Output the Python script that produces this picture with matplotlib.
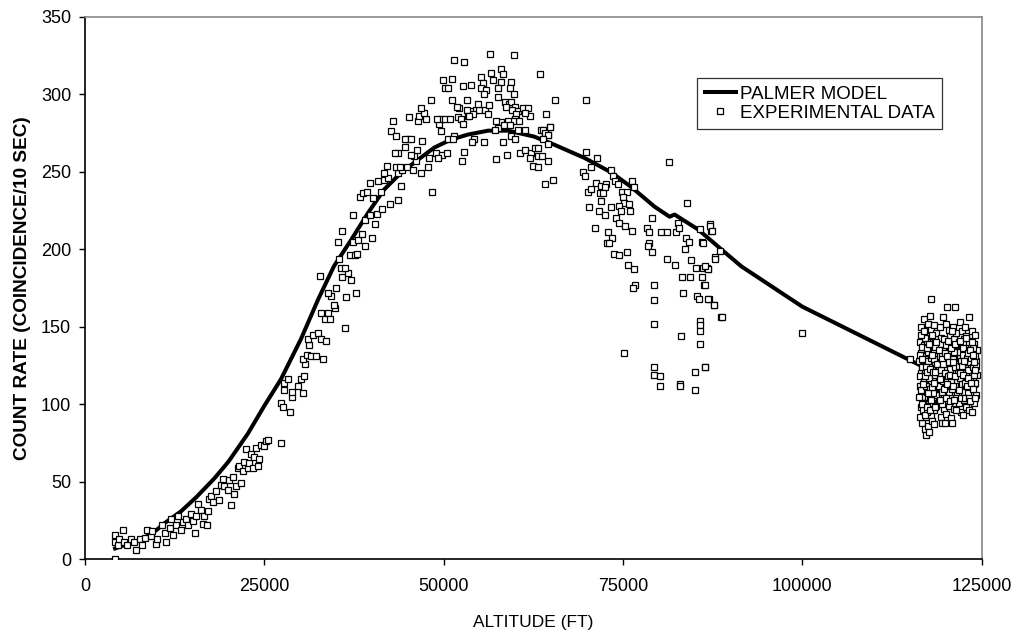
import matplotlib
matplotlib.use("Agg")
import matplotlib.pyplot as plt

plt.rcParams['font.family'] = ['Liberation Sans', 'DejaVu Sans']

# Palmer model curve (altitude ft, count rate)
model_alt = [4200, 6000, 8000, 10000, 11000, 13400, 15500, 18000, 20000, 22700,
             25000, 27300, 30100, 32500, 34700, 37100, 39500, 41700, 44100, 46500,
             48700, 51000, 53400, 56200, 59000, 62600, 65400, 69600, 73400, 76200,
             79400, 81500, 82200, 85500, 88700, 91500, 100000, 116200, 117000]
model_rate = [7, 10, 13, 19, 23, 31, 40, 52, 63, 81,
              99, 116, 142, 167.6, 189, 206, 223.7, 238.5, 249.5, 258,
              265.6, 270.7, 274, 276.5, 276.5, 272.7, 267.5, 259, 249.5, 240,
              227.5, 221, 222.4, 212.7, 200, 189, 163, 125.7, 124]

# experimental data, ascent / descent part
exp_alt = [
    4200, 4200, 5300, 4200, 4600, 4800, 5500, 5900, 6400, 6900, 7100, 7600, 8000, 8300, 8700,
    9200, 9400, 9900, 10100, 10800, 11100, 11300, 11800, 12000, 12200, 12700, 12900, 13400, 13600,
    14100, 14300, 14800, 15000, 15300, 15500, 15700, 16200, 16400, 16600, 17000, 17100, 17300,
    17600, 17800, 18300, 18700, 19000, 19200, 19400, 19900, 20100, 20400, 20600, 20800, 21100,
    21300, 21500, 21800, 22000, 22200, 22500, 22700, 22900, 23200, 23400, 23600, 23900, 24100,
    24300, 24600, 25000, 25300, 25500, 27300, 27300, 27600, 27800, 28600, 28800, 27800, 28300,
    29700, 30100, 28800,
    30400, 30500, 30700, 30400, 31000, 31500, 32200, 33200, 31300, 31100, 31800, 32500, 32900,
    33600, 36200, 32700, 32900, 33900, 33400, 34100, 34800, 34700, 34300, 33900, 35000, 36400,
    37800, 35900, 37100, 36600, 35700, 36200, 35400, 37000, 37600, 37900, 35300, 35900, 37300,
    38100, 38600, 39100, 40000, 40500, 37400, 39000, 39800, 40700, 41400, 42500, 43700, 38300,
    38700, 39300, 40200, 41200, 40800, 39700, 41700, 42300, 41700, 42100, 44100, 43600, 44200,
    43400, 43900, 44900, 45700, 46200, 45900, 46900, 47800, 48400, 45500, 46300, 47000, 44600,
    45000, 43600, 43200, 42700, 43400, 44600, 45500, 42900, 45200, 46400, 47600, 46600, 47300,
    48200, 46900, 48000, 49000, 49800, 50500, 49200, 49300, 49700, 50200, 50900, 49100, 49700,
    50600, 51500, 51300, 52000, 52400, 52700, 53400, 53900, 54500, 55000, 55700, 56200, 52100,
    53200, 54100, 53600, 51100, 51800, 53200, 54800, 56300, 57600, 58500, 59100, 59400, 59900,
    58700, 59500, 60400, 61100, 61800, 62100, 61300, 60100, 59900, 60500, 59700, 59000, 58000,
    57300, 57600, 58400, 59200, 60400, 61400, 57200, 59400, 59900, 58300, 55600, 54300, 53900,
    52800, 52500, 57300, 58800, 60600, 61300, 62200, 62700, 63200, 62100, 63100, 63700, 64500,
    62500, 63200, 64100, 65200, 63600, 64100, 64500, 64800, 64300, 65500, 63500, 56400, 59800,
    51500, 52900, 49900, 51200, 50200, 50600, 52700, 53800, 55200, 55500, 55200, 55900, 55600,
    56600, 56900, 58000, 58300, 58000, 59400, 59200, 59800, 57600,
    69900, 64900, 63800, 64200, 64600, 63800, 64500, 69800, 71400, 70600, 69400, 69700, 73400,
    73600, 73900, 71300, 72000, 72700, 72500, 70100, 70500, 71800, 72200, 74300, 76200, 76500,
    74800, 75500, 75000, 75200, 75900, 72000, 70300, 71600, 72500, 73300, 74500, 74700, 76000,
    74100, 74500, 75300, 76300, 71100, 72900, 73500, 72800, 73100, 73800, 74400, 75600, 75700,
    76500, 76700, 76400, 75200, 79100, 78400, 78600, 80300, 81200, 82400, 82700, 82800, 81400,
    84000, 78700, 78500, 79000, 81100, 82200, 83800, 84200, 83600, 84500, 85700, 86000, 87200,
    87300, 88600, 87900, 85200, 86200, 86700, 86900, 83200, 84400, 86000, 86300, 79300, 79400,
    83400, 85300, 85600, 87000, 87700, 88700, 79400, 85700, 85800, 85800, 83100, 85700, 79300,
    79400, 80100, 80200, 83000, 83000, 85000, 86500, 85100,
    87200, 87400, 86200, 87900, 86800, 86400, 86400, 86900, 87700, 88800, 86500, 100000, 115000,
]
exp_rate = [
    0, 16, 19, 11, 9, 13, 11, 9, 13, 11, 6, 13, 9, 14, 19,
    15, 18, 10, 13, 22, 17, 11, 20, 26, 16, 22, 28, 19, 24,
    26, 22, 29, 25, 17, 28, 36, 32, 23, 28, 22, 31, 39,
    41, 37, 44, 38, 48, 52, 47, 45, 51, 35, 53, 42, 47,
    59, 60, 49, 57, 63, 71, 59, 62, 68, 59, 66, 72, 60,
    65, 74, 73, 76, 77, 75, 101, 98, 109, 95, 105, 114, 116,
    112, 116, 108,
    107, 118, 126, 129, 132, 131, 131, 129, 138, 142, 145, 146, 142,
    141, 149, 183, 159, 159, 155, 155, 162, 164, 170, 172, 175, 169,
    172, 182, 180, 185, 188, 188, 194, 196, 196, 197, 205, 212, 205,
    206, 210, 202, 207, 216, 222, 219, 222, 223, 226, 229, 232, 234,
    236, 237, 233, 237, 244, 243, 245, 246, 249, 254, 241, 249, 251,
    253, 253, 253, 251, 257, 260, 249, 253, 237, 261, 264, 270, 266,
    271, 262, 262, 276, 273, 271, 271, 283, 285, 283, 284, 286, 288,
    296, 291, 259, 262, 261, 262, 259, 281, 284, 284, 284, 284, 276,
    271, 273, 271, 285, 284, 281, 286, 289, 290, 290, 290, 287, 291,
    290, 287, 286, 296, 292, 296, 294, 293, 298, 295, 294, 295, 292,
    292, 290, 289, 291, 291, 286, 288, 287, 284, 283, 283, 283, 282,
    283, 278, 280, 280, 277, 277, 277, 273, 271, 269, 269, 271, 269,
    263, 257, 258, 261, 262, 264, 262, 265, 265, 259, 260, 260, 257,
    254, 253, 242, 245, 277, 275, 274, 279, 287, 296, 313, 326, 325,
    322, 321, 309, 310, 304, 304, 305, 306, 311, 307, 304, 303, 300,
    314, 309, 316, 313, 308, 308, 304, 300, 304,
    296, 279, 277, 275, 274, 271, 268, 263, 259, 253, 250, 247, 251,
    247, 244, 243, 241, 242, 240, 237, 239, 236, 236, 242, 244, 240,
    237, 237, 234, 230, 229, 231, 227, 225, 222, 227, 228, 225, 225,
    220, 217, 215, 212, 214, 211, 207, 204, 204, 197, 196, 198, 190,
    187, 177, 175, 133, 220, 214, 211, 211, 211, 211, 217, 214, 256,
    230, 204, 202, 198, 194, 190, 207, 205, 200, 193, 213, 205, 216,
    212, 199, 195, 188, 188, 188, 187, 182, 182, 182, 177, 177, 167,
    172, 170, 168, 168, 164, 156, 152, 154, 151, 147, 144, 139, 124,
    119, 118, 112, 113, 112, 121, 124, 109,
    215, 212, 204, 194, 187, 189, 177, 168, 164, 156, 124, 146, 129,
]

# float at ceiling, dense cluster
cluster_alt = [
    116300, 116400, 116400, 116500, 116500, 116600, 116600, 116700, 116700, 116800, 116800, 116900,
    116900, 117000, 117000, 117000, 117100, 117100, 117200, 117200, 117200, 117300, 117300, 117300,
    117400, 117400, 117400, 117500, 117500, 117500, 117600, 117600, 117600, 117700, 117700, 117700,
    117800, 117800, 117800, 117900, 117900, 117900, 118000, 118000, 118000, 118100, 118100, 118100,
    118200, 118200, 118200, 118300, 118300, 118300, 118400, 118400, 118400, 118500, 118500, 118500,
    118600, 118600, 118700, 118700, 118700,
    119000, 119100, 119100, 119200, 119200, 119300, 119300, 119400, 119400, 119500, 119500, 119600,
    119600, 119700, 119700, 119800, 119800, 119900, 119900, 120000, 120000, 120000, 120100, 120100,
    120200, 120200, 120300, 120300, 120400, 120400, 120500, 120500, 120600, 120600, 120700, 120700,
    120800, 120800, 120900, 120900, 121000, 121000, 121100, 121100, 121200, 121200, 121300, 121300,
    121400, 121400, 121500, 121500,
    121800, 121800, 121900, 122000, 122000, 122100, 122100, 122200, 122200, 122300, 122300, 122400,
    122400, 122500, 122500, 122600, 122600, 122700, 122700, 122800, 122800, 122900, 122900, 123000,
    123000, 123100, 123100, 123200, 123200, 123300, 123300, 123400, 123400, 123500, 123500, 123600,
    123600, 123700, 123700, 123800, 123800, 123900, 123900, 124000, 124000, 124100, 124200, 124200,
    124300, 124300,
    116350, 116450, 116550, 116650, 116750, 116850, 116950, 117050, 117150, 117250, 117350, 117450,
    117550, 117650, 117750, 117850, 117950, 118050, 118150, 118250, 118350, 118450, 118550, 118650,
    118750,
    119050, 119150, 119250, 119350, 119450, 119550, 119650, 119750, 119850, 119950, 120050, 120150,
    120250, 120350, 120450, 120550, 120650, 120750, 120850, 120950, 121050, 121150, 121250, 121350,
    121450,
    121850, 121950, 122050, 122150, 122250, 122350, 122450, 122550, 122650, 122750, 122850, 122950,
    123050, 123150, 123250, 123350, 123450, 123550, 123650, 123750, 123850, 123950, 124050, 124150,
    124250,
    116250, 116450, 116550, 116650, 116750, 116850, 116950, 117050, 117150, 117250, 117350, 117450,
    117550, 117650, 117750, 117850, 117950, 118050, 118150, 118250, 118350, 118450, 118550, 118650,
    119050, 119150, 119250, 119350, 119450, 119550, 119650, 119750, 119850, 119950, 120050, 120150,
    120250, 120350, 120450, 120550, 120650, 120750, 120850, 120950, 121050, 121150, 121250, 121350,
    121450,
    121850, 121950, 122050, 122150, 122250, 122350, 122450, 122550, 122650, 122750, 122850, 122950,
    123050, 123150, 123250, 123350, 123450, 123550, 123650, 123750, 123850, 123950, 124050, 124150,
]
cluster_rate = [
    128, 112, 140, 98, 120, 150, 133, 105, 88, 118, 145, 125,
    96, 138, 110, 155, 84, 122, 101, 131, 146, 115, 92, 80,
    127, 141, 108, 152, 118, 86, 134, 99, 124, 144, 112, 82,
    129, 104, 157, 168, 120, 93, 137, 114, 148, 101, 126, 89,
    140, 117, 132, 96, 122, 151, 108, 135, 87, 127, 143, 113,
    99, 131, 119, 146, 106,
    125, 138, 102, 114, 150, 92, 129, 143, 110, 121, 88, 136,
    156, 105, 127, 116, 97, 141, 88, 130, 111, 152, 122, 94,
    139, 163, 107, 126, 148, 117, 99, 134, 113, 144, 125, 91,
    137, 106, 88, 120, 150, 131, 110, 142, 97, 124, 163, 135,
    115, 104, 146, 128,
    118, 140, 101, 130, 153, 112, 95, 138, 122, 106, 147, 127,
    93, 116, 142, 134, 103, 121, 150, 110, 131, 98, 144, 125,
    115, 137, 104, 156, 129, 118, 96, 141, 110, 126, 134, 95,
    120, 147, 107, 131, 116, 101, 139, 124, 113, 145, 128, 106,
    119, 135,
    118, 132, 109, 124, 137, 101, 115, 129, 143, 112, 136, 95,
    128, 117, 139, 110, 130, 123, 145, 107, 129, 119, 137, 112,
    126,
    112, 131, 120, 139, 100, 132, 115, 142, 124, 109, 138, 116,
    129, 141, 108, 123, 133, 115, 147, 129, 118, 134, 112, 124,
    138,
    125, 134, 117, 128, 113, 132, 120, 108, 127, 139, 119, 130,
    107, 122, 140, 127, 117, 130, 112, 124, 136, 119, 131, 114,
    125,
    105, 92, 145, 100, 129, 113, 147, 93, 118, 124, 98, 121,
    107, 139, 96, 123, 103, 132, 111, 121, 114, 98, 121, 140,
    135, 116, 103, 122, 129, 108, 126, 110, 133, 120, 104, 131,
    113, 118, 127, 102, 119, 136, 110, 112, 127, 103, 139, 118,
    96,
    109, 120, 141, 104, 125, 119, 136, 128, 114, 104, 143, 112,
    133, 117, 104, 135, 102, 114, 140, 132, 110, 127, 104, 122,
]

fig = plt.figure(figsize=(10.18, 6.31), dpi=100)
ax = fig.add_axes([0.0835, 0.1136, 0.8807, 0.8599])

ax.plot(model_alt, model_rate, color='black', lw=2.9, label='PALMER MODEL', zorder=3)
ax.plot(exp_alt + cluster_alt, exp_rate + cluster_rate, ls='none', marker='s', ms=4.2,
        mfc='white', mec='black', mew=0.9, label='EXPERIMENTAL DATA', zorder=4)

ax.set_xlim(0, 125000)
ax.set_ylim(0, 350)
ax.set_xticks(range(0, 125001, 25000))
ax.set_yticks(range(0, 351, 50))
ax.tick_params(axis='both', direction='out', length=4, width=1, labelsize=13, colors='black')
ax.tick_params(axis='x', pad=9.5)
ax.tick_params(axis='y', pad=6)

for s in ['left', 'bottom']:
    ax.spines[s].set_color('black')
for s in ['top', 'right']:
    ax.spines[s].set_color('#888888')
for s in ax.spines.values():
    s.set_linewidth(1.2)

ax.set_xlabel('ALTITUDE (FT)', fontsize=12.5, labelpad=14)
ax.set_ylabel('COUNT RATE (COINCIDENCE/10 SEC)', fontsize=13.7, fontweight='bold', labelpad=7)

leg = ax.legend(loc='upper left', bbox_to_anchor=(0.683, 0.887), borderaxespad=0,
                fontsize=13.5, frameon=True, fancybox=False, handlelength=1.65,
                handletextpad=0.2, borderpad=0.4, labelspacing=0.1)
leg.get_frame().set_edgecolor('black')
leg.get_frame().set_linewidth(0.9)

plt.savefig('out.png', dpi=100)
